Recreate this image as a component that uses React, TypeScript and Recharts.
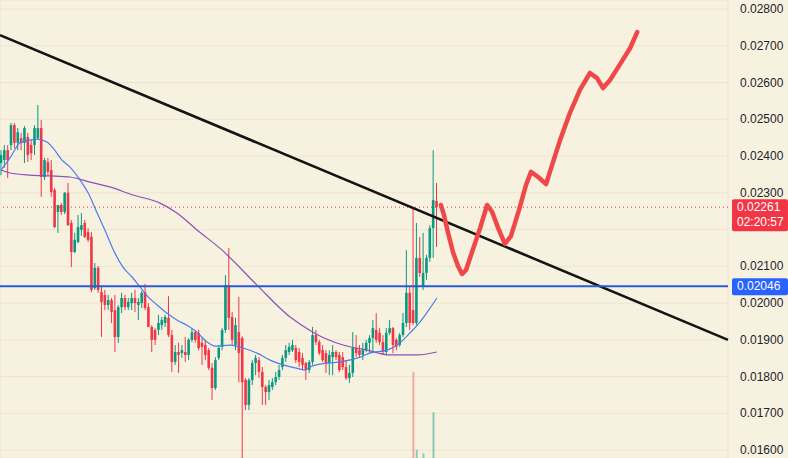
import React from 'react';
import { ComposedChart, Bar, Line, XAxis, YAxis, CartesianGrid, ReferenceLine, Cell } from 'recharts';

// prices are kept in units of 0.00001
const SCALE = 100000;

const opens = [
  2381, 2389, 2416, 2430, 2484, 2436, 2449, 2436, 2452, 2430,
  2430, 2449, 2476, 2343, 2384, 2362, 2308, 2248, 2267, 2248,
  2300, 2218, 2139, 2166, 2199, 2218, 2193, 2180, 2041, 2096,
  2030, 2022, 1995, 2008, 1981, 1908, 1989, 2014, 1989, 2000,
  2014, 1995, 2000, 2030, 1989, 1935, 1927, 1927, 1940, 1946,
  1960, 1913, 1840, 1867, 1864, 1867, 1859, 1900, 1921, 1919,
  1892, 1886, 1872, 1824, 1769, 1851, 1881, 1927, 2049, 1962,
  1886, 1921, 1905, 1791, 1723, 1791, 1837, 1845, 1813, 1772,
  1758, 1772, 1785, 1799, 1826, 1851, 1867, 1872, 1878, 1867,
  1851, 1837, 1818, 1840, 1913, 1894, 1872, 1864, 1837, 1853,
  1867, 1859, 1853, 1826, 1796, 1810, 1878, 1872, 1859, 1872,
  1892, 1905, 1927, 1919, 1894, 1867, 1919, 1932, 1900, 1886,
  1913, 1946, 2028, 1981, 1946, 2123, 2044, 2082, 2123, 2204,
  2278,
];
const highs = [
  2416, 2430, 2430, 2490, 2490, 2476, 2463, 2482, 2463, 2444,
  2484, 2539, 2498, 2395, 2395, 2389, 2313, 2267, 2272, 2302,
  2327, 2226, 2191, 2240, 2245, 2226, 2204, 2193, 2109, 2101,
  2044, 2036, 2022, 2014, 2022, 1995, 2028, 2022, 2014, 2028,
  2036, 2014, 2033, 2052, 2000, 1940, 1932, 1968, 1962, 1968,
  2019, 1927, 1886, 1892, 1886, 1908, 1905, 1932, 1927, 1927,
  1905, 1900, 1878, 1837, 1853, 1886, 1932, 2076, 2150, 1976,
  1960, 2017, 1910, 1796, 1796, 1845, 1859, 1853, 1826, 1777,
  1791, 1796, 1813, 1832, 1859, 1886, 1892, 1900, 1886, 1878,
  1864, 1840, 1845, 1935, 1927, 1900, 1886, 1872, 1872, 1886,
  1872, 1867, 1867, 1845, 1832, 1921, 1913, 1886, 1892, 1900,
  1913, 1954, 1973, 1932, 1913, 1932, 1954, 1935, 1905, 1919,
  1973, 2144, 2044, 2261, 2218, 2180, 2191, 2131, 2212, 2416,
  2327,
];
const lows = [
  2348, 2368, 2340, 2416, 2422, 2416, 2416, 2381, 2384, 2389,
  2403, 2444, 2289, 2335, 2348, 2289, 2204, 2191, 2240, 2242,
  2210, 2098, 2136, 2163, 2183, 2177, 2166, 2030, 2036, 2028,
  1908, 1981, 1981, 1946, 1867, 1892, 1973, 1981, 1981, 1981,
  1976, 1954, 1987, 1981, 1935, 1867, 1886, 1913, 1927, 1935,
  1908, 1813, 1832, 1810, 1851, 1840, 1845, 1894, 1892, 1872,
  1832, 1845, 1818, 1736, 1764, 1845, 1872, 1919, 1927, 1886,
  1872, 1785, 1546, 1709, 1709, 1777, 1804, 1796, 1723, 1723,
  1736, 1764, 1777, 1791, 1818, 1840, 1859, 1867, 1837, 1826,
  1818, 1791, 1810, 1832, 1886, 1859, 1840, 1810, 1804, 1804,
  1845, 1813, 1818, 1791, 1783, 1799, 1853, 1851, 1845, 1867,
  1864, 1864, 1892, 1886, 1859, 1859, 1913, 1864, 1872, 1881,
  1908, 1935, 1927, 1940, 1940, 2071, 2036, 2063, 2112, 2123,
  2153,
];
const closes = [
  2403, 2416, 2389, 2484, 2436, 2465, 2436, 2476, 2403, 2408,
  2476, 2476, 2343, 2389, 2357, 2302, 2207, 2267, 2248, 2300,
  2212, 2139, 2172, 2207, 2212, 2180, 2172, 2036, 2096, 2036,
  2003, 1995, 2008, 1976, 1908, 1989, 2014, 1989, 2003, 2014,
  2000, 2003, 2028, 1987, 1935, 1900, 1900, 1946, 1954, 1962,
  1913, 1840, 1867, 1859, 1872, 1859, 1900, 1921, 1900, 1878,
  1881, 1859, 1824, 1769, 1845, 1878, 1927, 2049, 1960, 1900,
  1940, 1864, 1785, 1723, 1791, 1837, 1851, 1813, 1772, 1758,
  1777, 1785, 1799, 1818, 1851, 1872, 1881, 1886, 1845, 1840,
  1832, 1818, 1840, 1913, 1894, 1864, 1845, 1837, 1859, 1867,
  1853, 1818, 1826, 1796, 1810, 1878, 1864, 1859, 1872, 1892,
  1905, 1932, 1900, 1894, 1867, 1919, 1932, 1886, 1881, 1913,
  1946, 2028, 1946, 1946, 2123, 2082, 2082, 2123, 2204, 2280,
  2261,
];

// only a few volume bars are tall enough to see
const volIdx = [123, 124, 126, 129];
const volVal = [188, 18, 10, 100];

// moving averages (candle index, price)
const fastIdx = [0, 2.7, 5.7, 10.7, 13.7, 15.5, 18.2, 20.6, 23.6, 26.0, 28.7, 31.0, 34.0, 36.4, 39.1, 41.5, 43.9, 46.6, 49.5, 52.5, 55.5, 58.5, 61.5, 63.9, 68.4, 72.2, 76.4, 80.3, 84.2, 87.8, 90.7, 92.2, 95.2, 101.2, 107.2, 110.1, 115.2, 119.1, 122.1, 125.1, 128.1, 130.1];
const fastVal = [2362, 2395, 2436, 2446, 2438, 2422, 2389, 2370, 2335, 2300, 2245, 2199, 2136, 2098, 2071, 2044, 2017, 1995, 1973, 1954, 1940, 1921, 1894, 1883, 1886, 1878, 1864, 1845, 1832, 1824, 1818, 1826, 1834, 1840, 1853, 1864, 1872, 1892, 1919, 1949, 1987, 2014];
const slowIdx = [0, 2.7, 8.7, 14.6, 20.6, 26.6, 32.5, 39.4, 47.5, 52.5, 58.5, 66.0, 76.4, 86.3, 93.1, 102.1, 109.3, 116.1, 124.2, 130.1];
const slowVal = [2362, 2354, 2348, 2346, 2343, 2329, 2316, 2294, 2272, 2245, 2199, 2144, 2049, 1962, 1921, 1886, 1872, 1859, 1859, 1867];

// the hand-drawn forecast scribble
const sketchIdx = [131.3, 132.2, 133.4, 134.9, 136.4, 137.6, 138.8, 140.6, 143.0, 145.1, 146.6, 148.4, 150.4, 152.2, 154.6, 156.7, 158.2, 160.3, 162.7, 164.5, 166.9, 169.8, 172.8, 175.8, 177.9, 179.7, 181.8, 184.8, 187.8, 189.9];
const sketchVal = [2267, 2240, 2193, 2139, 2101, 2079, 2090, 2139, 2204, 2267, 2248, 2204, 2161, 2182, 2253, 2321, 2357, 2343, 2324, 2376, 2444, 2517, 2580, 2626, 2612, 2585, 2607, 2650, 2694, 2737];

// trend line end points (index, price)
const trendIdx = [-0.3, 217];
const trendVal = [2729, 1900];

const supportLevel = 0.02046;
const lastPrice = 0.02261;
const countdown = '02:20:57';

const priceTicks = [0.016, 0.017, 0.018, 0.019, 0.02, 0.021, 0.022, 0.023, 0.024, 0.025, 0.026, 0.027, 0.028];
const gridIdx = [3.3, 21.2, 39.1, 57.0, 74.9, 92.5, 110.4, 128.4, 146.3, 164.2, 182.1, 200.0];

const X_DOMAIN: [number, number] = [-0.3, 217];
const Y_DOMAIN: [number, number] = [0.015787, 0.028245];

const UP = '#089981';
const DOWN = '#f23645';
const BG = '#f7f2e0';
const FONT = '"Liberation Sans", Arial, sans-serif';

const candles = opens.map((o, i) => ({
  i,
  open: o / SCALE,
  high: highs[i] / SCALE,
  low: lows[i] / SCALE,
  close: closes[i] / SCALE,
  range: [lows[i] / SCALE, highs[i] / SCALE],
}));
const volumes = volIdx.map((i, k) => ({ i, v: volVal[k], up: closes[i] >= opens[i] }));
const fastMa = fastIdx.map((i, k) => ({ i, v: fastVal[k] / SCALE }));
const slowMa = slowIdx.map((i, k) => ({ i, v: slowVal[k] / SCALE }));
const sketch = sketchIdx.map((i, k) => ({ i, v: sketchVal[k] / SCALE }));

function Candle(props: any) {
  const { x, y, width, height, payload } = props;
  const { open, close, high, low } = payload;
  const top = Math.min(y, y + height);
  const bottom = Math.max(y, y + height);
  const cx = x + width / 2;
  const k = high === low ? 0 : (bottom - top) / (high - low);
  const yo = top + (high - open) * k;
  const yc = top + (high - close) * k;
  const color = close >= open ? UP : DOWN;
  return (
    <g>
      <line x1={cx} x2={cx} y1={top} y2={bottom} stroke={color} strokeWidth={1} />
      <rect x={cx - 1.3} y={Math.min(yo, yc)} width={2.6} height={Math.max(1, Math.abs(yo - yc))} fill={color} />
    </g>
  );
}

function PriceTick({ x, y, payload }: any) {
  // 0.02200 sits under the last-price tag
  if (Math.abs(payload.value - 0.022) < 1e-9) return <g />;
  return (
    <text x={x} y={y} dy={4} fontSize={12} fill="#1f222b" fontFamily={FONT}>
      {payload.value.toFixed(5)}
    </text>
  );
}

function Tag({ viewBox, color, lines }: any) {
  const left = viewBox.x + viewBox.width + 4;
  const h = lines.length * 15 + 2;
  return (
    <g>
      <rect x={left} y={viewBox.y - 8} width={56} height={h} rx={2} fill={color} />
      {lines.map((t: string, k: number) => (
        <text key={k} x={left + 5} y={viewBox.y + 4 + k * 15} fontSize={12} fill="#fff" fontFamily={FONT}>
          {t}
        </text>
      ))}
    </g>
  );
}

export default function App() {
  return (
    <div style={{ position: 'absolute', left: 0, top: 0, width: 788, height: 458, background: BG }}>
      <ComposedChart width={788} height={458} data={candles} margin={{ top: 0, right: 0, bottom: 0, left: 0 }}>
        <CartesianGrid stroke="#ebe5cf" strokeWidth={1} />
        <XAxis
          type="number"
          dataKey="i"
          domain={X_DOMAIN}
          allowDataOverflow
          ticks={gridIdx}
          tick={false}
          axisLine={false}
          tickLine={false}
          height={0}
        />
        <YAxis
          orientation="right"
          width={60}
          domain={Y_DOMAIN}
          allowDataOverflow
          ticks={priceTicks}
          interval={0}
          tick={<PriceTick />}
          tickSize={0}
          tickMargin={12}
          axisLine={false}
          tickLine={false}
        />
        <ReferenceLine
          y={lastPrice}
          stroke={DOWN}
          strokeDasharray="1 3"
          strokeWidth={1}
          label={(p: any) => <Tag {...p} color="#f23645" lines={[lastPrice.toFixed(5), countdown]} />}
        />
        <Line data={slowMa} dataKey="v" type="monotone" stroke="#8e4fb6" strokeWidth={1.2} dot={false} activeDot={false} isAnimationActive={false} />
        <Line data={fastMa} dataKey="v" type="monotone" stroke="#4f7cf0" strokeWidth={1.2} dot={false} activeDot={false} isAnimationActive={false} />
        <Bar dataKey="range" barSize={3} shape={<Candle />} isAnimationActive={false} />
        <ReferenceLine
          segment={[{ x: trendIdx[0], y: trendVal[0] / SCALE }, { x: trendIdx[1], y: trendVal[1] / SCALE }]}
          stroke="#141414"
          strokeWidth={2.6}
          ifOverflow="visible"
        />
        <ReferenceLine
          y={supportLevel}
          stroke="#2a5bd7"
          strokeWidth={2}
          label={(p: any) => <Tag {...p} color="#2962ff" lines={[supportLevel.toFixed(5)]} />}
        />
        <Line
          data={sketch}
          dataKey="v"
          type="linear"
          stroke="#f04848"
          strokeWidth={4.5}
          strokeLinecap="round"
          strokeLinejoin="round"
          dot={false}
          activeDot={false}
          isAnimationActive={false}
        />
      </ComposedChart>
      <div style={{ position: 'absolute', left: 0, top: 0, pointerEvents: 'none' }}>
        <ComposedChart width={728} height={458} data={volumes} margin={{ top: 0, right: 0, bottom: 0, left: 0 }}>
          <XAxis type="number" dataKey="i" domain={X_DOMAIN} allowDataOverflow hide />
          <YAxis domain={[0, 1000]} hide />
          <Bar dataKey="v" barSize={2} isAnimationActive={false}>
            {volumes.map((d, k) => (
              <Cell key={k} fill={d.up ? 'rgba(8,153,129,0.45)' : 'rgba(242,54,69,0.4)'} />
            ))}
          </Bar>
        </ComposedChart>
      </div>
    </div>
  );
}
